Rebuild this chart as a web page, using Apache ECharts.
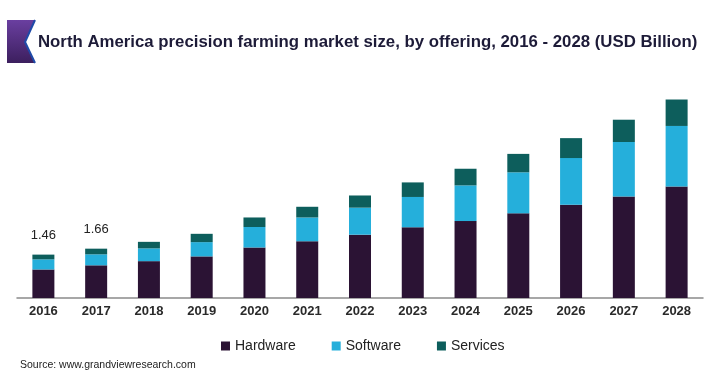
<!DOCTYPE html>
<html>
<head>
<meta charset="utf-8">
<script src="https://cdn.jsdelivr.net/npm/echarts@6/dist/echarts.min.js"></script>
<style>
html,body{margin:0;padding:0;background:#fff;}
#chart{width:720px;height:390px;}
</style>
</head>
<body>
<div id="chart"></div>
<script>
const years = ['2016','2017','2018','2019','2020','2021','2022','2023','2024','2025','2026','2027','2028'];
const hardware = [0.96, 1.10, 1.24, 1.40, 1.70, 1.91, 2.13, 2.38, 2.59, 2.85, 3.14, 3.42, 3.75];
const software = [0.34, 0.37, 0.43, 0.48, 0.69, 0.80, 0.91, 1.02, 1.20, 1.38, 1.57, 1.83, 2.04];
const services = [0.16, 0.19, 0.22, 0.28, 0.32, 0.36, 0.41, 0.49, 0.56, 0.62, 0.67, 0.75, 0.89];
const totalLabels = ['1.46', '1.66', '', '', '', '', '', '', '', '', '', '', ''];

const titleText = 'North America precision farming market size, by offering, 2016 - 2028 (USD Billion)';
const sourceText = 'Source: www.grandviewresearch.com';

const chart = echarts.init(document.getElementById('chart'), null, {renderer: 'canvas'});
const font = '"Liberation Sans", Arial, sans-serif';

const option = {
  backgroundColor: '#ffffff',
  animation: false,
  title: {
    text: titleText,
    left: 33,
    top: 29,
    textStyle: {fontFamily: font, fontSize: 16.8, fontWeight: 'bold', color: '#1d1b38'}
  },
  legend: {
    data: ['Hardware', 'Software', 'Services'],
    left: 216,
    top: 334,
    itemWidth: 9,
    itemHeight: 9,
    itemGap: 36,
    icon: 'rect',
    textStyle: {fontFamily: font, fontSize: 14, color: '#222'}
  },
  grid: {left: 17, right: 17, top: 90, height: 208, containLabel: false},
  xAxis: {
    type: 'category',
    data: years,
    axisLine: {lineStyle: {color: '#8a8a8a', width: 1.5}},
    axisTick: {show: false},
    axisLabel: {fontFamily: font, fontSize: 13, fontWeight: 'bold', color: '#2a2a2a', margin: 7}
  },
  yAxis: {
    type: 'value',
    min: 0,
    max: 7,
    show: false,
    splitLine: {show: false}
  },
  series: [
    {name: 'Hardware', type: 'bar', stack: 'total', data: hardware, barWidth: 22,
     itemStyle: {color: '#2b1334'}},
    {name: 'Software', type: 'bar', stack: 'total', data: software, barWidth: 22,
     itemStyle: {color: '#25afdb'}},
    {name: 'Services', type: 'bar', stack: 'total', data: services, barWidth: 22,
     itemStyle: {color: '#0d5e5c'},
     label: {show: true, position: 'top', distance: 13,
       fontFamily: font, fontSize: 13, color: '#222',
       formatter: p => totalLabels[p.dataIndex]}}
  ],
  graphic: [
    {type: 'polygon', shape: {points: [[7,20],[35,20],[25,42],[35,63],[7,63]]},
     style: {fill: new echarts.graphic.LinearGradient(0,0,0,1,[{offset:0,color:'#6a3fa0'},{offset:1,color:'#3c1f5e'}])}},
    {type: 'polyline', shape: {points: [[35,20],[25,42],[35,63]]},
     style: {stroke: '#1f4aa8', lineWidth: 2, fill: null}},
    {type: 'text', left: 20, top: 360,
     style: {text: sourceText, fontFamily: font, fontSize: 10.5, fill: '#222'}}
  ]
};
chart.setOption(option);
</script>
</body>
</html>
